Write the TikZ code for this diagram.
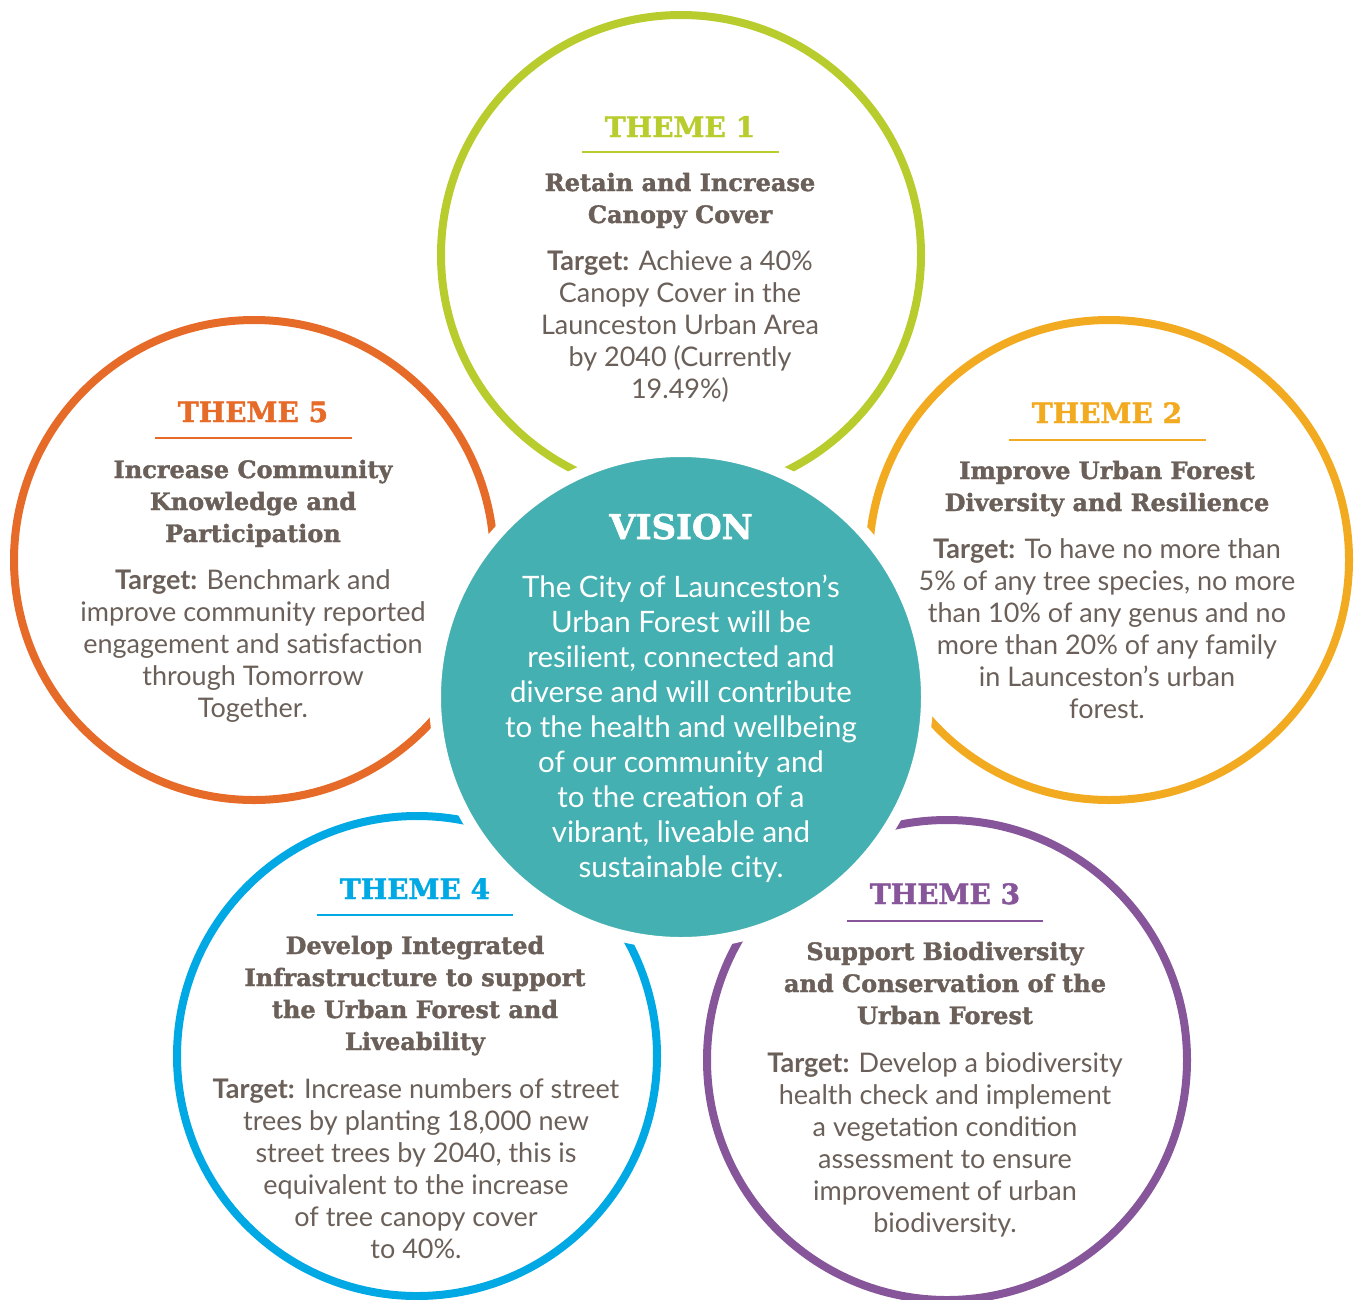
\documentclass[tikz,border=0pt]{standalone}
\usepackage{fontspec}
\setmainfont{Lato}
\newfontfamily\slabfont{DejaVu Serif}[BoldFeatures={FakeBold=1.6}]
\usetikzlibrary{positioning}

\definecolor{themeone}{HTML}{B9CC2E}
\definecolor{themetwo}{HTML}{F2AA20}
\definecolor{themethree}{HTML}{87559A}
\definecolor{themefour}{HTML}{00A8E4}
\definecolor{themefive}{HTML}{E66A28}
\definecolor{visionteal}{HTML}{44B0B1}
\definecolor{textgrey}{HTML}{6B6059}

% multi-line nodes are placed by the baseline of their last line
\tikzset{
  ring/.style={circle, draw=#1, line width=8pt, minimum size=480pt, inner sep=0pt},
  head/.style={text=#1, font=\slabfont\bfseries\fontsize{28}{32}\selectfont, anchor=base, inner sep=0pt},
  title/.style={text=textgrey, font=\slabfont\bfseries\fontsize{24}{32}\selectfont, align=center, anchor=base, inner sep=0pt},
  target/.style={text=textgrey, font=\fontsize{27}{32}\selectfont, align=center, anchor=base, inner sep=0pt},
  rule/.style={draw=#1, line width=2.5pt}
}

\begin{document}
\begin{tikzpicture}[x=1pt,y=-1pt]
  \useasboundingbox (0,0) rectangle (1363,1299);

  % the five theme rings
  \node[ring=themeone]   (t1) at (681,255)  {};
  \node[ring=themefive]  (t5) at (254,560)  {};
  \node[ring=themetwo]   (t2) at (1109,560) {};
  \node[ring=themefour]  (t4) at (417,1056) {};
  \node[ring=themethree] (t3) at (947,1060) {};

  % vision disc, white edge cuts the rings
  \node[circle, fill=visionteal, draw=white, line width=12pt, minimum size=492pt, inner sep=0pt] (vision) at (681,697) {};

  % theme 1
  \node[head=themeone] (t1head) at (680,137) {THEME 1};
  \draw[rule=themeone] (582,152) -- (779,152);
  \node[title] (t1title) at (680,223) {Retain and Increase\\Canopy Cover};
  \node[target] (t1target) at (680,398) {\textbf{Target:} Achieve a 40\%\\Canopy Cover in the\\Launceston Urban Area\\by 2040 (Currently\\19.49\%)};

  % theme 5
  \node[head=themefive] (t5head) at (253,422) {THEME 5};
  \draw[rule=themefive] (155,438) -- (352,438);
  \node[title] (t5title) at (253,542) {Increase Community\\Knowledge and\\Participation};
  \node[target] (t5target) at (253,717) {\textbf{Target:} Benchmark and\\improve community reported\\engagement and satisfaction\\through Tomorrow\\Together.};

  % theme 2
  \node[head=themetwo] (t2head) at (1107,423) {THEME 2};
  \draw[rule=themetwo] (1009,440) -- (1206,440);
  \node[title] (t2title) at (1107,511) {Improve Urban Forest\\Diversity and Resilience};
  \node[target] (t2target) at (1107,718) {\textbf{Target:} To have no more than\\5\% of any tree species, no more\\than 10\% of any genus and no\\more than 20\% of any family\\in Launceston’s urban\\forest.};

  % theme 4
  \node[head=themefour] (t4head) at (415,899) {THEME 4};
  \draw[rule=themefour] (317,915) -- (513,915);
  \node[title] (t4title) at (415,1050) {Develop Integrated\\Infrastructure to support\\the Urban Forest and\\Liveability};
  \node[target] (t4target) at (416,1258) {\textbf{Target:} Increase numbers of street\\trees by planting 18,000 new\\street trees by 2040, this is\\equivalent to the increase\\of tree canopy cover\\to 40\%.};

  % theme 3
  \node[head=themethree] (t3head) at (945,904) {THEME 3};
  \draw[rule=themethree] (847,921) -- (1043,921);
  \node[title] (t3title) at (945,1024) {Support Biodiversity\\and Conservation of the\\Urban Forest};
  \node[target] (t3target) at (945,1232) {\textbf{Target:} Develop a biodiversity\\health check and implement\\a vegetation condition\\assessment to ensure\\improvement of urban\\biodiversity.};

  % vision statement
  \node[head=white, font=\slabfont\bfseries\fontsize{34}{35}\selectfont] (vhead) at (681,539) {VISION};
  \node[target, text=white, font=\fontsize{29.5}{35}\selectfont] (vtext) at (681,877) {The City of Launceston’s\\Urban Forest will be\\resilient, connected and\\diverse and will contribute\\to the health and wellbeing\\of our community and\\to the creation of a\\vibrant, liveable and\\sustainable city.};
\end{tikzpicture}
\end{document}
